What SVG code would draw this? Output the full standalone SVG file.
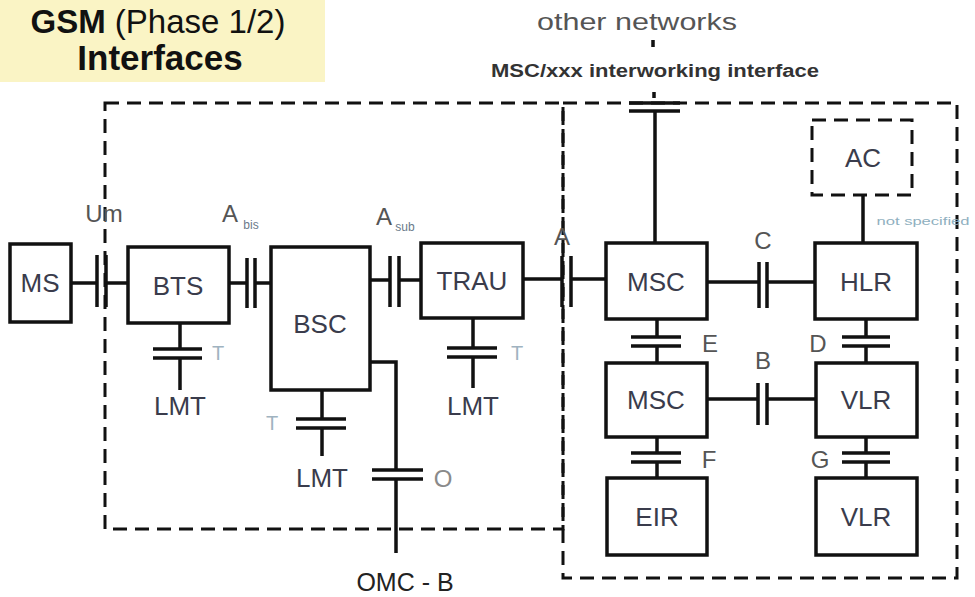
<svg xmlns="http://www.w3.org/2000/svg" width="975" height="597" viewBox="0 0 975 597">
<style>
.box{fill:#fff;stroke:#111;stroke-width:3.5}
.dash{fill:none;stroke:#111;stroke-width:3;stroke-dasharray:14 8}
.ln{fill:none;stroke:#111;stroke-width:3.5}
.lbl{font-family:"Liberation Sans",Arial,sans-serif;font-size:26px;fill:#3a3c4c;text-anchor:middle}
.ifc{font-family:"Liberation Sans",Arial,sans-serif;font-size:24px;fill:#555;text-anchor:middle}
.sub{font-family:"Liberation Sans",Arial,sans-serif;font-size:12px;fill:#6a7a8a;text-anchor:middle}
.t{font-family:"Liberation Sans",Arial,sans-serif;font-size:20px;fill:#9fb3c0;text-anchor:middle}
</style>
<rect id="title-bg" x="0" y="0" width="325" height="82" fill="#FAF4C5"/>
<g id="title" font-family="'Liberation Sans',Arial,sans-serif" text-anchor="middle" fill="#111">
<text x="158" y="33" font-size="33"><tspan font-weight="bold">GSM</tspan> (Phase 1/2)</text>
<text x="160" y="70" font-size="35" font-weight="bold">Interfaces</text>
</g>
<g id="boundaries">
<rect class="dash" x="105" y="103" width="458" height="426"/>
<rect class="dash" x="563" y="103" width="394" height="475"/>
</g>
<g id="connectors">
<path class="ln" d="M71,283H97M106,283H128M97,255V307M106,255V307"/>
<path class="ln" d="M180,323V349M180,358V390M153,349H202M153,358H202"/>
<path class="ln" d="M229,283H247M255,283H271M247,258V308M255,258V308"/>
<path class="ln" d="M370,280H390M399,280H421M390,256V307M399,256V307"/>
<path class="ln" d="M473,318V348M473,357V388M447,348H497M447,357H497"/>
<path class="ln" d="M523,279H562M571,279H606M562,256V307M571,256V307"/>
<path class="ln" d="M322,390V419M322,428V456M296,419H346M296,428H346"/>
<path class="ln" d="M370,362H396V470M396,479V553M372,470H423M372,479H423"/>
<path class="ln" d="M655,111V243M629,103H680M629,111H680M654,92V98M653,40V47"/>
<path class="ln" d="M707,282H759M767,282H815M759,262V308M767,262V308"/>
<path class="ln" d="M863,195V243"/>
<path class="ln" d="M657,319V337M657,346V363M631,337H681M631,346H681"/>
<path class="ln" d="M866,319V337M866,346V363M842,337H890M842,346H890"/>
<path class="ln" d="M707,399H758M767,399H816M758,383V425M767,383V425"/>
<path class="ln" d="M657,437V453M657,462V478M631,453H681M631,462H681"/>
<path class="ln" d="M866,437V453M866,462V478M842,453H890M842,462H890"/>
</g>
<g id="interface-labels">
<text class="ifc" x="104" y="222">Um</text>
<text class="ifc" x="230" y="222">A</text><text class="sub" x="251" y="229">bis</text>
<text class="ifc" x="384" y="225">A</text><text class="sub" x="405" y="231">sub</text>
<text class="ifc" x="562" y="245">A</text>
<text class="ifc" x="763" y="249">C</text>
<text class="ifc" x="763" y="369">B</text>
<text class="ifc" x="710" y="352">E</text>
<text class="ifc" x="818" y="352">D</text>
<text class="ifc" x="709" y="468">F</text>
<text class="ifc" x="820" y="468">G</text>
<text class="t" x="218" y="360">T</text>
<text class="t" x="517" y="360">T</text>
<text class="t" x="272" y="430">T</text>
<text class="ifc" x="443" y="487" style="fill:#8a8a8a">O</text>
</g>
<g id="top-labels" font-family="'Liberation Sans',Arial,sans-serif" text-anchor="middle">
<text x="637" y="30" font-size="24" fill="#555" textLength="200" lengthAdjust="spacingAndGlyphs">other networks</text>
<text x="655" y="77" font-size="18" font-weight="bold" fill="#333" textLength="328" lengthAdjust="spacingAndGlyphs">MSC/xxx interworking interface</text>
<text x="923" y="225" font-size="11" fill="#8fb0c0" textLength="93" lengthAdjust="spacingAndGlyphs">not specified</text>
<text x="405" y="591" font-size="25" fill="#222">OMC - B</text>
</g>
<g id="node-MS"><rect class="box" x="10" y="244" width="61" height="78"/><text class="lbl" x="40" y="292">MS</text></g>
<g id="node-BTS"><rect class="box" x="128" y="247" width="101" height="76"/><text class="lbl" x="178" y="295">BTS</text></g>
<g id="node-BSC"><rect class="box" x="271" y="247" width="99" height="143"/><text class="lbl" x="320" y="333">BSC</text></g>
<g id="node-TRAU"><rect class="box" x="421" y="243" width="102" height="75"/><text class="lbl" x="472" y="290">TRAU</text></g>
<g id="node-LMT1"><text class="lbl" x="180" y="415">LMT</text></g>
<g id="node-LMT2"><text class="lbl" x="322" y="487">LMT</text></g>
<g id="node-LMT3"><text class="lbl" x="473" y="415">LMT</text></g>
<g id="node-MSC1"><rect class="box" x="606" y="243" width="101" height="76"/><text class="lbl" x="656" y="291">MSC</text></g>
<g id="node-HLR"><rect class="box" x="815" y="243" width="102" height="76"/><text class="lbl" x="866" y="291">HLR</text></g>
<g id="node-AC"><rect class="dash" x="812" y="120" width="100" height="75"/><text class="lbl" x="863" y="167">AC</text></g>
<g id="node-MSC2"><rect class="box" x="606" y="363" width="101" height="74"/><text class="lbl" x="656" y="409">MSC</text></g>
<g id="node-VLR1"><rect class="box" x="816" y="363" width="101" height="74"/><text class="lbl" x="866" y="409">VLR</text></g>
<g id="node-EIR"><rect class="box" x="607" y="478" width="100" height="77"/><text class="lbl" x="657" y="526">EIR</text></g>
<g id="node-VLR2"><rect class="box" x="816" y="478" width="101" height="77"/><text class="lbl" x="866" y="526">VLR</text></g>
</svg>
